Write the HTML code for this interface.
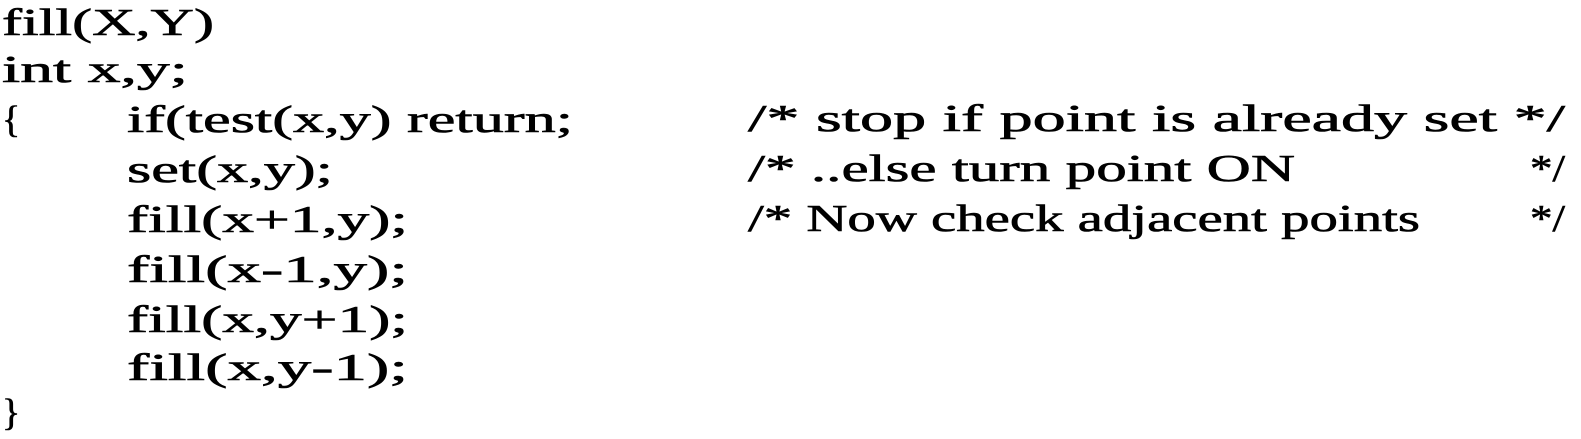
<!DOCTYPE html>
<html><head><meta charset="utf-8"><style>
html,body{margin:0;padding:0;background:#fff;}
svg{display:block}
text{font-family:"Liberation Serif",serif;font-size:38px;fill:#000;stroke:#000;stroke-width:0.6px;}
</style></head><body>
<svg width="1581" height="439" viewBox="0 0 1581 439">
<text x="2" y="35" textLength="212" lengthAdjust="spacingAndGlyphs">fill(X,Y)</text>
<text x="2" y="82" textLength="186" lengthAdjust="spacingAndGlyphs">int x,y;</text>
<text x="2" y="132">{</text>
<text x="127" y="132" textLength="446" lengthAdjust="spacingAndGlyphs">if(test(x,y) return;</text>
<text x="748" y="131" textLength="817" lengthAdjust="spacingAndGlyphs">/* stop if point is already set */</text>
<text x="127" y="182" textLength="206" lengthAdjust="spacingAndGlyphs">set(x,y);</text>
<text x="748" y="181" textLength="547" lengthAdjust="spacingAndGlyphs">/* ..else turn point ON</text>
<text x="1530" y="181" textLength="35" lengthAdjust="spacingAndGlyphs">*/</text>
<text x="127" y="232" textLength="281" lengthAdjust="spacingAndGlyphs">fill(x+1,y);</text>
<text x="748" y="231" textLength="672" lengthAdjust="spacingAndGlyphs">/* Now check adjacent points</text>
<text x="1530" y="231" textLength="35" lengthAdjust="spacingAndGlyphs">*/</text>
<text x="127" y="282" textLength="281" lengthAdjust="spacingAndGlyphs">fill(x-1,y);</text>
<text x="127" y="332" textLength="281" lengthAdjust="spacingAndGlyphs">fill(x,y+1);</text>
<text x="127" y="380" textLength="281" lengthAdjust="spacingAndGlyphs">fill(x,y-1);</text>
<text x="2" y="425">}</text>
</svg>
</body></html>
